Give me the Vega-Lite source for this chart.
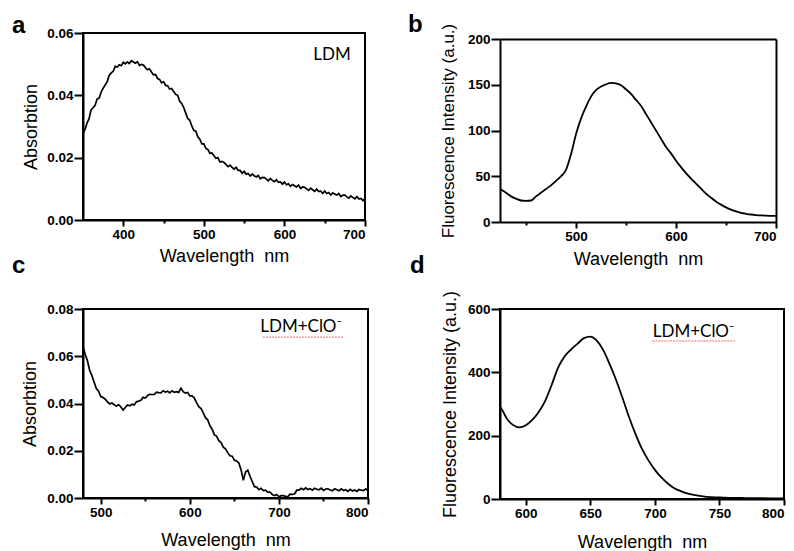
{
"$schema": "https://vega.github.io/schema/vega-lite/v6.json",
"autosize": {"type": "pad"},
"padding": {"left": 11, "top": 13, "right": 0, "bottom": 0},
"background": "#ffffff",
"datasets": {
"absA": [
{"w":350,"v":0.0279},{"w":352.5,"v":0.0290},{"w":355,"v":0.0311},{"w":357.5,"v":0.0325},{"w":360,"v":0.0353},{"w":362.5,"v":0.0360},{"w":365,"v":0.0368},{"w":367.5,"v":0.0388},{"w":370,"v":0.0391},{"w":372.5,"v":0.0410},
{"w":375,"v":0.0423},{"w":377.5,"v":0.0433},{"w":380,"v":0.0444},{"w":382.5,"v":0.0464},{"w":385,"v":0.0472},{"w":387.5,"v":0.0477},{"w":390,"v":0.0493},{"w":392.5,"v":0.0491},{"w":395,"v":0.0498},{"w":397.5,"v":0.0495},
{"w":400,"v":0.0506},{"w":402.5,"v":0.0501},{"w":405,"v":0.0507},{"w":407.5,"v":0.0502},{"w":410,"v":0.0511},{"w":412.5,"v":0.0507},{"w":415,"v":0.0503},{"w":417.5,"v":0.0508},{"w":420,"v":0.0496},{"w":422.5,"v":0.0499},
{"w":425,"v":0.0497},{"w":427.5,"v":0.0489},{"w":430,"v":0.0482},{"w":432.5,"v":0.0485},{"w":435,"v":0.0475},{"w":437.5,"v":0.0466},{"w":440,"v":0.0467},{"w":442.5,"v":0.0454},{"w":445,"v":0.0451},{"w":447.5,"v":0.0440},
{"w":450,"v":0.0444},{"w":452.5,"v":0.0432},{"w":455,"v":0.0431},{"w":457.5,"v":0.0420},{"w":460,"v":0.0422},{"w":462.5,"v":0.0412},{"w":465,"v":0.0403},{"w":467.5,"v":0.0400},{"w":470,"v":0.0381},{"w":472.5,"v":0.0374},
{"w":475,"v":0.0361},{"w":477.5,"v":0.0343},{"w":480,"v":0.0326},{"w":482.5,"v":0.0320},{"w":485,"v":0.0302},{"w":487.5,"v":0.0288},{"w":490,"v":0.0285},{"w":492.5,"v":0.0267},{"w":495,"v":0.0259},{"w":497.5,"v":0.0244},
{"w":500,"v":0.0244},{"w":502.5,"v":0.0230},{"w":505,"v":0.0226},{"w":507.5,"v":0.0214},{"w":510,"v":0.0215},{"w":512.5,"v":0.0206},{"w":515,"v":0.0198},{"w":517.5,"v":0.0200},{"w":520,"v":0.0186},{"w":522.5,"v":0.0188},
{"w":525,"v":0.0185},{"w":527.5,"v":0.0178},{"w":530,"v":0.0171},{"w":532.5,"v":0.0176},{"w":535,"v":0.0169},{"w":537.5,"v":0.0163},{"w":540,"v":0.0169},{"w":542.5,"v":0.0159},{"w":545,"v":0.0159},{"w":547.5,"v":0.0150},
{"w":550,"v":0.0156},{"w":552.5,"v":0.0147},{"w":555,"v":0.0149},{"w":557.5,"v":0.0141},{"w":560,"v":0.0147},{"w":562.5,"v":0.0142},{"w":565,"v":0.0138},{"w":567.5,"v":0.0143},{"w":570,"v":0.0132},{"w":572.5,"v":0.0137},
{"w":575,"v":0.0136},{"w":577.5,"v":0.0131},{"w":580,"v":0.0126},{"w":582.5,"v":0.0133},{"w":585,"v":0.0127},{"w":587.5,"v":0.0123},{"w":590,"v":0.0129},{"w":592.5,"v":0.0121},{"w":595,"v":0.0122},{"w":597.5,"v":0.0115},
{"w":600,"v":0.0122},{"w":602.5,"v":0.0113},{"w":605,"v":0.0116},{"w":607.5,"v":0.0108},{"w":610,"v":0.0114},{"w":612.5,"v":0.0110},{"w":615,"v":0.0106},{"w":617.5,"v":0.0112},{"w":620,"v":0.0101},{"w":622.5,"v":0.0106},
{"w":625,"v":0.0105},{"w":627.5,"v":0.0100},{"w":630,"v":0.0095},{"w":632.5,"v":0.0102},{"w":635,"v":0.0097},{"w":637.5,"v":0.0092},{"w":640,"v":0.0099},{"w":642.5,"v":0.0091},{"w":645,"v":0.0093},{"w":647.5,"v":0.0085},
{"w":650,"v":0.0093},{"w":652.5,"v":0.0085},{"w":655,"v":0.0088},{"w":657.5,"v":0.0080},{"w":660,"v":0.0087},{"w":662.5,"v":0.0083},{"w":665,"v":0.0080},{"w":667.5,"v":0.0085},{"w":670,"v":0.0075},{"w":672.5,"v":0.0080},
{"w":675,"v":0.0080},{"w":677.5,"v":0.0074},{"w":680,"v":0.0070},{"w":682.5,"v":0.0077},{"w":685,"v":0.0072},{"w":687.5,"v":0.0068},{"w":690,"v":0.0075},{"w":692.5,"v":0.0067},{"w":695,"v":0.0069},{"w":697.5,"v":0.0062},
{"w":700,"v":0.0070}
],
"absC": [
{"w":480,"v":0.0640},{"w":482.5,"v":0.0607},{"w":485,"v":0.0581},{"w":487.5,"v":0.0540},{"w":490,"v":0.0518},{"w":492.5,"v":0.0490},{"w":495,"v":0.0463},{"w":497.5,"v":0.0452},{"w":500,"v":0.0429},{"w":502.5,"v":0.0425},
{"w":505,"v":0.0418},{"w":507.5,"v":0.0407},{"w":510,"v":0.0398},{"w":512.5,"v":0.0402},{"w":515,"v":0.0395},{"w":517.5,"v":0.0389},{"w":520,"v":0.0395},{"w":522.5,"v":0.0386},{"w":525,"v":0.0372},{"w":527.5,"v":0.0383},
{"w":530,"v":0.0394},{"w":532.5,"v":0.0390},{"w":535,"v":0.0397},{"w":537.5,"v":0.0394},{"w":540,"v":0.0407},{"w":542.5,"v":0.0410},{"w":545,"v":0.0414},{"w":547.5,"v":0.0426},{"w":550,"v":0.0423},{"w":552.5,"v":0.0434},
{"w":555,"v":0.0439},{"w":557.5,"v":0.0438},{"w":560,"v":0.0438},{"w":562.5,"v":0.0448},{"w":565,"v":0.0446},{"w":567.5,"v":0.0445},{"w":570,"v":0.0454},{"w":572.5,"v":0.0448},{"w":575,"v":0.0452},{"w":577.5,"v":0.0445},
{"w":580,"v":0.0454},{"w":582.5,"v":0.0447},{"w":585,"v":0.0450},{"w":587.5,"v":0.0447},{"w":590,"v":0.0465},{"w":592.5,"v":0.0450},{"w":595,"v":0.0444},{"w":597.5,"v":0.0447},{"w":600,"v":0.0432},{"w":602.5,"v":0.0432},
{"w":605,"v":0.0423},{"w":607.5,"v":0.0404},{"w":610,"v":0.0386},{"w":612.5,"v":0.0379},{"w":615,"v":0.0360},{"w":617.5,"v":0.0340},{"w":620,"v":0.0331},{"w":622.5,"v":0.0306},{"w":625,"v":0.0291},{"w":627.5,"v":0.0267},
{"w":630,"v":0.0262},{"w":632.5,"v":0.0243},{"w":635,"v":0.0235},{"w":637.5,"v":0.0215},{"w":640,"v":0.0208},{"w":642.5,"v":0.0192},{"w":645,"v":0.0179},{"w":647.5,"v":0.0177},{"w":650,"v":0.0160},{"w":652.5,"v":0.0157},
{"w":655,"v":0.0148},{"w":657.5,"v":0.0119},{"w":660,"v":0.0075},{"w":662.5,"v":0.0110},{"w":665,"v":0.0118},{"w":667.5,"v":0.0092},{"w":670,"v":0.0070},{"w":672.5,"v":0.0048},{"w":675,"v":0.0046},{"w":677.5,"v":0.0035},
{"w":680,"v":0.0041},{"w":682.5,"v":0.0031},{"w":685,"v":0.0033},{"w":687.5,"v":0.0025},{"w":690,"v":0.0025},{"w":692.5,"v":0.0015},{"w":695,"v":0.0010},{"w":697.5,"v":0.0015},{"w":700,"v":0.0005},{"w":702.5,"v":0.0010},
{"w":705,"v":0.0010},{"w":707.5,"v":0.0007},{"w":710,"v":0.0006},{"w":712.5,"v":0.0016},{"w":715,"v":0.0015},{"w":717.5,"v":0.0017},{"w":720,"v":0.0033},{"w":722.5,"v":0.0033},{"w":725,"v":0.0041},{"w":727.5,"v":0.0035},
{"w":730,"v":0.0043},{"w":732.5,"v":0.0036},{"w":735,"v":0.0039},{"w":737.5,"v":0.0033},{"w":740,"v":0.0041},{"w":742.5,"v":0.0037},{"w":745,"v":0.0035},{"w":747.5,"v":0.0042},{"w":750,"v":0.0032},{"w":752.5,"v":0.0038},
{"w":755,"v":0.0039},{"w":757.5,"v":0.0034},{"w":760,"v":0.0031},{"w":762.5,"v":0.0039},{"w":765,"v":0.0035},{"w":767.5,"v":0.0031},{"w":770,"v":0.0039},{"w":772.5,"v":0.0032},{"w":775,"v":0.0035},{"w":777.5,"v":0.0028},
{"w":780,"v":0.0037},{"w":782.5,"v":0.0030},{"w":785,"v":0.0034},{"w":787.5,"v":0.0028},{"w":790,"v":0.0036},{"w":792.5,"v":0.0033},{"w":795,"v":0.0031},{"w":797.5,"v":0.0039},{"w":800,"v":0.0030}
],
"flB": [
{"w":424,"v":36},{"w":430,"v":32},{"w":435,"v":28},{"w":440,"v":25.5},{"w":445,"v":23.5},{"w":450,"v":23},{"w":455,"v":23.5},{"w":460,"v":28},{"w":465,"v":32},{"w":470,"v":36},
{"w":475,"v":40},{"w":480,"v":45},{"w":485,"v":50},{"w":490,"v":57},{"w":495,"v":74},{"w":500,"v":96},{"w":505,"v":113},{"w":510,"v":126},{"w":515,"v":137},{"w":520,"v":144},
{"w":525,"v":148},{"w":530,"v":150.5},{"w":535,"v":152},{"w":540,"v":151.5},{"w":545,"v":149.5},{"w":550,"v":145},{"w":555,"v":140},{"w":560,"v":133.5},{"w":565,"v":127},{"w":570,"v":118},
{"w":575,"v":109},{"w":580,"v":100},{"w":585,"v":91},{"w":590,"v":82},{"w":595,"v":75},{"w":600,"v":67},{"w":605,"v":60},{"w":610,"v":53.5},{"w":615,"v":47.5},{"w":620,"v":42},
{"w":625,"v":36.5},{"w":630,"v":31},{"w":635,"v":26.5},{"w":640,"v":22.5},{"w":645,"v":19},{"w":650,"v":16},{"w":655,"v":13.5},{"w":660,"v":11.5},{"w":665,"v":10},{"w":670,"v":9},
{"w":675,"v":8.2},{"w":680,"v":7.6},{"w":685,"v":7.2},{"w":690,"v":6.9},{"w":695,"v":6.7},{"w":700,"v":6.6}
],
"flD": [
{"w":580,"v":292},{"w":582.5,"v":275},{"w":585,"v":256},{"w":590,"v":234},{"w":595,"v":226},{"w":600,"v":233},{"w":605,"v":250},{"w":610,"v":275},{"w":615,"v":310},{"w":620,"v":360},
{"w":625,"v":415},{"w":630,"v":450},{"w":635,"v":472},{"w":640,"v":490},{"w":645,"v":508},{"w":650,"v":513},{"w":655,"v":500},{"w":660,"v":470},{"w":665,"v":425},{"w":670,"v":375},
{"w":675,"v":318},{"w":680,"v":258},{"w":685,"v":205},{"w":690,"v":158},{"w":695,"v":122},{"w":700,"v":92},{"w":705,"v":68},{"w":710,"v":49},{"w":715,"v":34},{"w":720,"v":25},
{"w":725,"v":18},{"w":730,"v":13},{"w":740,"v":7},{"w":750,"v":5},{"w":760,"v":3.5},{"w":770,"v":3},{"w":780,"v":2.5},{"w":790,"v":2},{"w":800,"v":2}
]
},
"columns": 2,
"align": "all",
"bounds": "flush",
"spacing": {"row": 86, "column": 132},
"concat": [
{
 "width": 282, "height": 187,
 "title": {"text": "a", "dx": -71, "dy": 16},
 "layer": [
  {"data": {"name": "absA"},
   "mark": {"type": "line", "color": "#000", "strokeWidth": 1.7},
   "encoding": {
    "x": {"field": "w", "type": "quantitative", "scale": {"domain": [350, 700], "nice": false, "zero": false},
          "axis": {"values": [400, 450, 500, 550, 600, 650, 700], "title": "Wavelength\u00a0 nm", "grid": false,
                   "labelExpr": "datum.value % 100 == 0 ? datum.label : ''",
                   "tickSize": {"condition": {"test": "datum.value % 100 != 0", "value": 3}, "value": 6},
                   "titleY": 41, "titleBaseline": "alphabetic"}},
    "y": {"field": "v", "type": "quantitative", "scale": {"domain": [0, 0.06], "nice": false},
          "axis": {"values": [0, 0.02, 0.04, 0.06], "format": ".2f", "title": "Absorbtion", "grid": false, "titleX": -47, "titleBaseline": "alphabetic"}}
   }},
  {"data": {"values": [{"w": 659, "v": 0.053, "t": "LDM"}]},
   "mark": {"type": "text", "font": "Lato", "fontSize": 17, "color": "#000", "align": "center", "baseline": "middle"},
   "encoding": {"x": {"field": "w", "type": "quantitative"}, "y": {"field": "v", "type": "quantitative"}, "text": {"field": "t"}}}
 ]
},
{
 "width": 276, "height": 189,
 "view": {"stroke": null},
 "title": {"text": "b", "dx": -92, "dy": 18},
 "resolve": {"axis": {"x": "independent", "y": "independent"}},
 "layer": [
  {"data": {"name": "flB"},
   "mark": {"type": "line", "color": "#000", "strokeWidth": 1.8, "interpolate": "monotone"},
   "encoding": {
    "x": {"field": "w", "type": "quantitative", "scale": {"domain": [424, 700], "nice": false, "zero": false},
          "axis": {"values": [450, 500, 550, 600, 650, 700], "title": "Wavelength\u00a0 nm", "grid": false,
                   "labelExpr": "datum.value % 100 == 0 ? datum.label : ''",
                   "tickSize": {"condition": {"test": "datum.value % 100 != 0", "value": 3}, "value": 6},
                   "titleY": 42, "titleBaseline": "alphabetic"}},
    "y": {"field": "v", "type": "quantitative", "scale": {"domain": [0, 200], "range": [189, 6], "nice": false},
          "axis": {"values": [0, 50, 100, 150, 200], "title": "Fluorescence Intensity (a.u.)", "titleFontSize": 17, "grid": false,
                   "titleX": -47, "titleBaseline": "alphabetic"}}
   }},
  {"data": {"name": "flB"},
   "mark": {"type": "line", "opacity": 0},
   "encoding": {
    "x": {"field": "w", "type": "quantitative",
          "axis": {"orient": "top", "offset": -6, "labels": false, "ticks": false, "title": null, "grid": false}},
    "y": {"field": "v", "type": "quantitative",
          "axis": {"orient": "right", "labels": false, "ticks": false, "title": null, "grid": false}}
   }}
 ]
},
{
 "width": 285, "height": 189,
 "title": {"text": "c", "dx": -71, "dy": -20},
 "layer": [
  {"data": {"name": "absC"},
   "mark": {"type": "line", "color": "#000", "strokeWidth": 1.7},
   "encoding": {
    "x": {"field": "w", "type": "quantitative", "scale": {"domain": [480, 800], "nice": false, "zero": false},
          "axis": {"values": [500, 550, 600, 650, 700, 750, 800], "title": "Wavelength\u00a0 nm", "grid": false,
                   "labelExpr": "datum.value % 100 == 0 ? datum.label : ''",
                   "tickSize": {"condition": {"test": "datum.value % 100 != 0", "value": 3}, "value": 6},
                   "titleY": 47, "titleBaseline": "alphabetic"}},
    "y": {"field": "v", "type": "quantitative", "scale": {"domain": [0, 0.08], "nice": false},
          "axis": {"values": [0, 0.02, 0.04, 0.06, 0.08], "format": ".2f", "title": "Absorbtion", "grid": false, "titleX": -48, "titleBaseline": "alphabetic"}}
   }},
  {"data": {"values": [{"w": 725, "v": 0.0724, "t": "LDM+ClO⁻"}]},
   "mark": {"type": "text", "font": "Lato", "fontSize": 17, "color": "#000", "align": "center", "baseline": "middle"},
   "encoding": {"x": {"field": "w", "type": "quantitative"}, "y": {"field": "v", "type": "quantitative"}, "text": {"field": "t"}}},
  {"data": {"values": [{"w": 682, "w2": 773, "v": 0.0681}]},
   "mark": {"type": "rule", "color": "#e06a6a", "strokeWidth": 1, "strokeDash": [2, 1]},
   "encoding": {"x": {"field": "w", "type": "quantitative"}, "x2": {"field": "w2"}, "y": {"field": "v", "type": "quantitative"}}}
 ]
},
{
 "width": 284, "height": 190,
 "title": {"text": "d", "dx": -90, "dy": -8},
 "layer": [
  {"data": {"name": "flD"},
   "mark": {"type": "line", "color": "#000", "strokeWidth": 1.8, "interpolate": "monotone"},
   "encoding": {
    "x": {"field": "w", "type": "quantitative", "scale": {"domain": [580, 800], "nice": false, "zero": false},
          "axis": {"values": [600, 625, 650, 675, 700, 725, 750, 775, 800], "title": "Wavelength\u00a0 nm", "grid": false,
                   "labelExpr": "datum.value % 50 == 0 ? datum.label : ''",
                   "tickSize": {"condition": {"test": "datum.value % 50 != 0", "value": 3}, "value": 6},
                   "titleY": 48, "titleBaseline": "alphabetic"}},
    "y": {"field": "v", "type": "quantitative", "scale": {"domain": [0, 600], "nice": false},
          "axis": {"values": [0, 200, 400, 600], "title": "Fluorescence Intensity (a.u.)", "grid": false, "titleX": -45, "titleBaseline": "alphabetic"}}
   }},
  {"data": {"values": [{"w": 730, "v": 526, "t": "LDM+ClO⁻"}]},
   "mark": {"type": "text", "font": "Lato", "fontSize": 17, "color": "#000", "align": "center", "baseline": "middle"},
   "encoding": {"x": {"field": "w", "type": "quantitative"}, "y": {"field": "v", "type": "quantitative"}, "text": {"field": "t"}}},
  {"data": {"values": [{"w": 698, "w2": 762, "v": 499}]},
   "mark": {"type": "rule", "color": "#e06a6a", "strokeWidth": 1, "strokeDash": [2, 1]},
   "encoding": {"x": {"field": "w", "type": "quantitative"}, "x2": {"field": "w2"}, "y": {"field": "v", "type": "quantitative"}}}
 ]
}
],
"config": {
 "view": {"stroke": "#000", "strokeWidth": 2},
 "axis": {"labelFont": "Liberation Sans", "labelFontWeight": "bold", "labelFontSize": 13.5, "labelColor": "#000",
          "domainColor": "#000", "domainWidth": 2,
          "tickColor": "#000", "tickWidth": 2, "titleFont": "Liberation Sans", "titleFontWeight": "normal", "titleFontSize": 18, "titleColor": "#000"},
 "axisX": {"labelPadding": 1},
 "axisY": {"tickSize": 9, "labelPadding": 1},
 "title": {"font": "Liberation Sans", "fontSize": 24, "fontWeight": "bold", "anchor": "start", "frame": "group", "color": "#000", "baseline": "alphabetic", "offset": 0}
}
}
